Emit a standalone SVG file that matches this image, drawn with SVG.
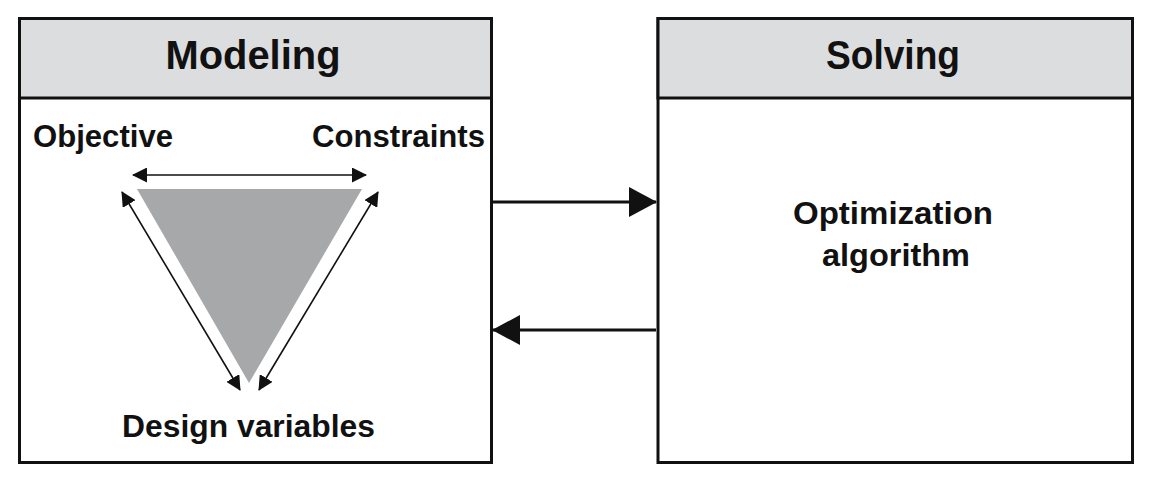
<svg xmlns="http://www.w3.org/2000/svg" width="1151" height="482" viewBox="0 0 1151 482">
  <style>
    .box { fill: #ffffff; stroke: #111111; stroke-width: 3; }
    .hdr { fill: #dcdddf; stroke: #111111; stroke-width: 3; }
    .title { font-family: "Liberation Sans", Arial, sans-serif; font-weight: bold; font-size: 40px; fill: #111111; text-anchor: middle; }
    .lbl { font-family: "Liberation Sans", Arial, sans-serif; font-weight: bold; font-size: 31px; fill: #111111; }
    .big { stroke: #111111; stroke-width: 3; fill: none; }
    .small { stroke: #111111; stroke-width: 1.6; fill: none; }
  </style>
  <defs>
    <marker id="bigHead" markerUnits="userSpaceOnUse" markerWidth="28" markerHeight="30" refX="27" refY="15" orient="auto">
      <path d="M0,0 L28,15 L0,30 Z" fill="#111111"/>
    </marker>
    <marker id="smallHead" markerUnits="userSpaceOnUse" markerWidth="15" markerHeight="15" refX="14" refY="7.5" orient="auto-start-reverse">
      <path d="M0,0 L15,7.5 L0,15 Z" fill="#111111"/>
    </marker>
  </defs>
  <rect width="1151" height="482" fill="#ffffff"/>

  <g id="modeling">
    <rect class="box" x="19.5" y="18.5" width="472" height="444"/>
    <rect class="hdr" x="19.5" y="18.5" width="472" height="79.5"/>
    <text class="title" x="253" y="69" textLength="175" lengthAdjust="spacingAndGlyphs">Modeling</text>
    <polygon points="137,189 362,189 249,383" fill="#a7a8aa"/>
    <text class="lbl" x="33" y="147" textLength="140" lengthAdjust="spacingAndGlyphs">Objective</text>
    <text class="lbl" x="312" y="147" textLength="173" lengthAdjust="spacingAndGlyphs">Constraints</text>
    <text class="lbl" x="122" y="437" textLength="253" lengthAdjust="spacingAndGlyphs">Design variables</text>
    <g id="triangle-arrows">
      <line class="small" x1="133" y1="175" x2="366" y2="175" marker-start="url(#smallHead)" marker-end="url(#smallHead)"/>
      <line class="small" x1="122" y1="192" x2="240" y2="390" marker-start="url(#smallHead)" marker-end="url(#smallHead)"/>
      <line class="small" x1="378" y1="192" x2="259" y2="390" marker-start="url(#smallHead)" marker-end="url(#smallHead)"/>
    </g>
  </g>

  <g id="solving">
    <rect class="box" x="658" y="18.5" width="474.5" height="444"/>
    <rect class="hdr" x="658" y="18.5" width="474.5" height="79.5"/>
    <text class="title" x="893" y="69" textLength="134" lengthAdjust="spacingAndGlyphs">Solving</text>
    <text class="lbl" x="893" y="224" text-anchor="middle" textLength="200" lengthAdjust="spacingAndGlyphs">Optimization</text>
    <text class="lbl" x="896" y="266" text-anchor="middle" textLength="148" lengthAdjust="spacingAndGlyphs">algorithm</text>
  </g>

  <g id="connectors">
    <line class="big" x1="493" y1="202" x2="656" y2="202" marker-end="url(#bigHead)"/>
    <line class="big" x1="656" y1="330" x2="493" y2="330" marker-end="url(#bigHead)"/>
  </g>
</svg>
